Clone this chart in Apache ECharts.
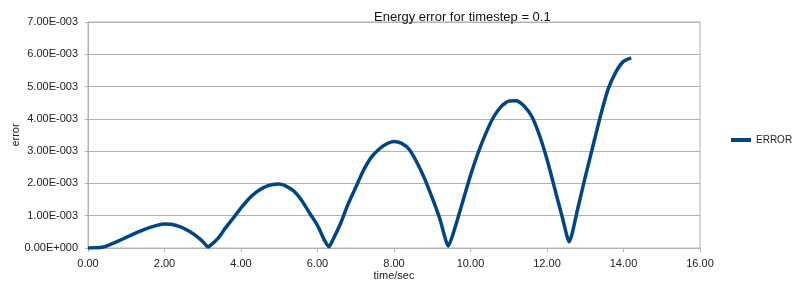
<!DOCTYPE html>
<html>
<head>
<meta charset="utf-8">
<script src="https://cdn.jsdelivr.net/npm/echarts@6/dist/echarts.min.js"></script>
<style>
html,body{margin:0;padding:0;background:#fff;}
#chart{width:800px;height:288px;}
</style>
</head>
<body>
<div id="chart"></div>
<script>
const titleText = 'Energy error for timestep = 0.1';
const seriesName = 'ERROR';
const xAxisName = 'time/sec';
const yAxisName = 'error';

const timeSec = [0,0.2,0.4,0.6,0.8,1.0,1.2,1.4,1.6,1.8,2.0,2.2,2.4,2.6,2.8,3.0,3.14,3.2,3.4,3.6,3.8,4.0,4.2,4.4,4.6,4.8,5.0,5.2,5.4,5.6,5.8,6.0,6.2,6.3,6.4,6.6,6.8,7.0,7.2,7.4,7.6,7.8,8.0,8.2,8.4,8.6,8.8,9.0,9.2,9.42,9.6,9.8,10.0,10.2,10.4,10.6,10.8,11.0,11.2,11.4,11.6,11.8,12.0,12.2,12.4,12.58,12.8,13.0,13.2,13.4,13.6,13.8,14.0,14.2];
const errorValues = [0,0.000005,0.00003,0.00012,0.00022,0.00033,0.00044,0.00054,0.00063,0.00070,0.00074,0.00073,0.00066,0.00055,0.00040,0.00020,0.00003,0.00008,0.00030,0.00063,0.00093,0.00124,0.00152,0.00173,0.00188,0.00196,0.00198,0.00190,0.00174,0.00145,0.00107,0.00070,0.00020,0.00004,0.00025,0.00075,0.00136,0.00188,0.00240,0.00280,0.00305,0.00322,0.00330,0.00324,0.00305,0.00265,0.00215,0.00155,0.00090,0.00006,0.00065,0.00145,0.00225,0.00295,0.00355,0.00405,0.00438,0.00455,0.00456,0.00440,0.00408,0.00350,0.00275,0.00185,0.00095,0.00019,0.00120,0.00220,0.00315,0.00410,0.00493,0.00545,0.00578,0.00589];

const xTickLabels = ['0.00','2.00','4.00','6.00','8.00','10.00','12.00','14.00','16.00'];
const yTickLabels = ['0.00E+000','1.00E-003','2.00E-003','3.00E-003','4.00E-003','5.00E-003','6.00E-003','7.00E-003'];

const chart = echarts.init(document.getElementById('chart'));
const gridColor = '#b3b3b3';
const textColor = '#222';
const font = '"Liberation Sans", Arial, sans-serif';

chart.setOption({
  animation: false,
  backgroundColor: '#fff',
  title: {
    text: titleText,
    left: 369,
    top: 6,
    textStyle: {fontFamily: font, fontSize: 13, fontWeight: 'normal', color: '#111'}
  },
  legend: {
    data: [seriesName],
    left: 731,
    top: 135,
    padding: 0,
    icon: 'rect',
    itemWidth: 20,
    itemHeight: 4,
    textStyle: {fontFamily: font, fontSize: 10, color: textColor}
  },
  grid: {
    left: 88, right: 100, top: 22, bottom: 40,
    containLabel: false,
    outerBoundsMode: 'none',
    show: true, borderColor: gridColor, borderWidth: 1
  },
  xAxis: {
    type: 'value',
    min: 0, max: 16, interval: 2,
    name: xAxisName,
    nameLocation: 'middle',
    nameGap: 22,
    nameMoveOverlap: false,
    nameTextStyle: {fontFamily: font, fontSize: 11, color: textColor},
    axisLine: {lineStyle: {color: gridColor}},
    axisTick: {show: true, length: 4, lineStyle: {color: gridColor}},
    splitLine: {show: false},
    axisLabel: {
      fontFamily: font, fontSize: 11, color: textColor, margin: 10,
      formatter: v => xTickLabels[Math.round(v / 2)]
    }
  },
  yAxis: {
    type: 'value',
    min: 0, max: 0.007, interval: 0.001,
    name: yAxisName,
    nameLocation: 'middle',
    nameGap: 67,
    nameMoveOverlap: false,
    nameTextStyle: {fontFamily: font, fontSize: 11, color: textColor},
    axisLine: {show: true, lineStyle: {color: gridColor}},
    axisTick: {show: true, length: 3, lineStyle: {color: gridColor}},
    splitLine: {show: true, lineStyle: {color: gridColor, width: 1}},
    axisLabel: {
      fontFamily: font, fontSize: 11, color: textColor, margin: 10,
      formatter: v => yTickLabels[Math.round(v / 0.001)]
    }
  },
  series: [{
    name: seriesName,
    type: 'line',
    data: timeSec.map((t, i) => [t, errorValues[i]]),
    showSymbol: false,
    smooth: 0.2,
    lineStyle: {color: '#004586', width: 3.5},
    itemStyle: {color: '#004586'}
  }]
});
</script>
</body>
</html>
